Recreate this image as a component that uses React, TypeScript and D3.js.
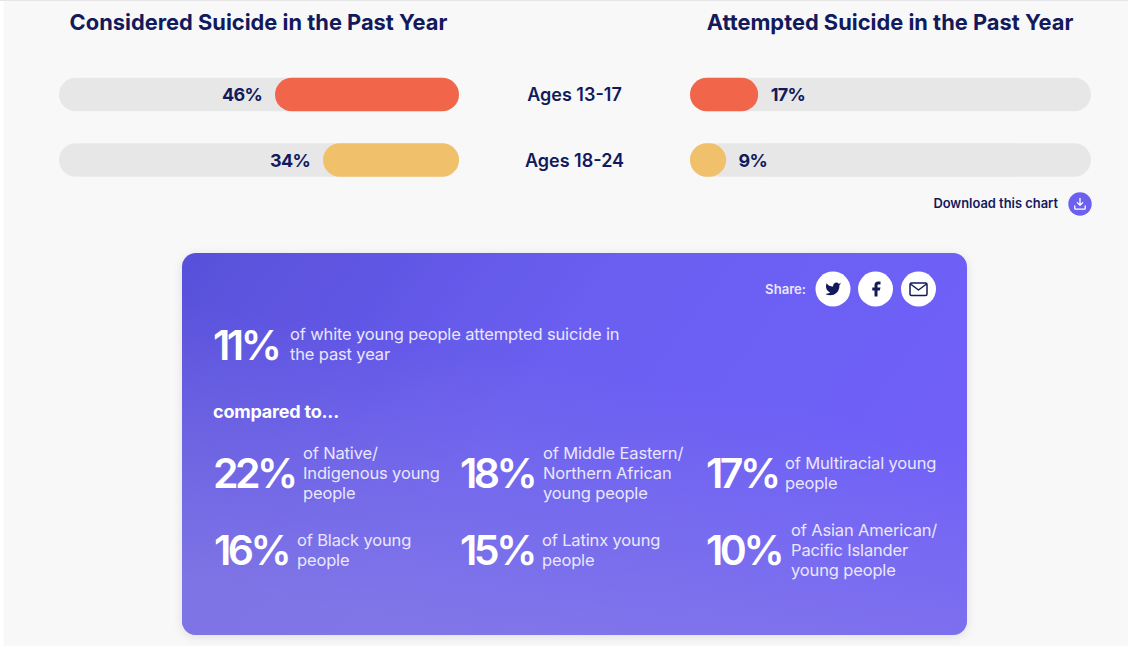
import React from "react";
import * as d3 from "d3";

const ageGroups = ["Ages 13-17", "Ages 18-24"];
const considered = [46, 34];
const attempted = [17, 9];
const barColors = ["#f1664a", "#f1c06a"];
const whiteValue = 11;
const whiteLines = ["of white young people attempted suicide in", "the past year"];
const groupValues = [22, 18, 17, 16, 15, 10];
const groupLines = [
  ["of Native/", "Indigenous young", "people"],
  ["of Middle Eastern/", "Northern African", "young people"],
  ["of Multiracial young", "people"],
  ["of Black young", "people"],
  ["of Latinx young", "people"],
  ["of Asian American/", "Pacific Islander", "young people"],
];
const groupNumberX = [213, 460, 706, 214, 460, 706];
const groupTextX = [303, 543, 785, 297, 542, 791];
const groupRowY = [473, 550];

const NAVY = "#131a5c";
const FONT = "Inter, 'Noto Sans', sans-serif";

export default function App() {
  const leftScale = d3.scaleLinear().domain([0, 100]).range([459, 59]);
  const rightScale = d3.scaleLinear().domain([0, 100]).range([690, 1091]);
  const rowY = d3.scalePoint<string>().domain(ageGroups).range([94.5, 160]);
  const barH = 33.5;

  return (
    <svg
      width={1128}
      height={646}
      viewBox="0 0 1128 646"
      style={{ position: "fixed", left: 0, top: 0, display: "block" }}
      fontFamily={FONT}
    >
      <defs>
        <linearGradient id="cardBase" x1="0" y1="0" x2="1" y2="0.35">
          <stop offset="0" stopColor="#5850da" />
          <stop offset="0.5" stopColor="#6a5ef0" />
          <stop offset="1" stopColor="#6f61f8" />
        </linearGradient>
        <linearGradient id="cardGlow" x1="0.62" y1="0.35" x2="0.38" y2="1">
          <stop offset="0" stopColor="#8a80e4" stopOpacity="0" />
          <stop offset="1" stopColor="#8a80e4" stopOpacity="0.7" />
        </linearGradient>
        <filter id="cardShadow" x="-5%" y="-5%" width="110%" height="110%">
          <feDropShadow dx="0" dy="2" stdDeviation="5" floodColor="#000" floodOpacity="0.1" />
        </filter>
      </defs>

      <rect x={0} y={0} width={1128} height={646} fill="#ffffff" />
      <rect x={3.5} y={1} width={1124.5} height={645} fill="#f8f8f9" />
      <rect x={0} y={0} width={1128} height={1} fill="#e6e6e8" />

      <text x={258.5} y={30} textAnchor="middle" fontSize={21.85} fontWeight={700} fill={NAVY}>
        Considered Suicide in the Past Year
      </text>
      <text x={890} y={30} textAnchor="middle" fontSize={21.85} fontWeight={700} fill={NAVY}>
        Attempted Suicide in the Past Year
      </text>

      {ageGroups.map((g, i) => {
        const y = rowY(g)!;
        const top = y - barH / 2;
        const lx = leftScale(considered[i]);
        const rx = rightScale(attempted[i]);
        return (
          <g key={g}>
            <rect x={59} y={top} width={400} height={barH} rx={16.75} fill="#e7e7e8" />
            <rect x={lx} y={top} width={459 - lx} height={barH} rx={16.75} fill={barColors[i]} />
            <text x={lx - 13} y={y + 6.5} textAnchor="end" fontSize={18} fontWeight={700} letterSpacing={-0.7} fill={NAVY}>
              {considered[i]}%
            </text>
            <text x={574.5} y={y + 6.5} textAnchor="middle" fontSize={18} fontWeight={600} fill={NAVY}>
              {g}
            </text>
            <rect x={690} y={top} width={401} height={barH} rx={16.75} fill="#e7e7e8" />
            <rect x={690} y={top} width={rx - 690} height={barH} rx={16.75} fill={barColors[i]} />
            <text x={rx + 12.5} y={y + 6.5} fontSize={18} fontWeight={700} letterSpacing={-0.7} fill={NAVY}>
              {attempted[i]}%
            </text>
          </g>
        );
      })}

      <text x={1058} y={208} textAnchor="end" fontSize={12.9} fontWeight={600} fill={NAVY}>
        Download this chart
      </text>
      <circle cx={1080} cy={204} r={11.7} fill="#6b60f0" />
      <g stroke="#fff" strokeWidth={1.3} fill="none" strokeLinecap="round" strokeLinejoin="round">
        <path d="M1080 198.5v6.5M1077.3 202.6l2.7 2.7 2.7-2.7" />
        <path d="M1074.8 206v2.4a0.8 0.8 0 0 0 0.8 0.8h8.8a0.8 0.8 0 0 0 0.8-0.8v-2.4" />
      </g>

      <g filter="url(#cardShadow)">
        <rect x={182} y={253} width={785} height={382} rx={14} fill="url(#cardBase)" />
      </g>
      <rect x={182} y={253} width={785} height={382} rx={14} fill="url(#cardGlow)" />

      <text x={806} y={293.5} textAnchor="end" fontSize={13.1} fontWeight={600} fill="#e9e7fd">
        Share:
      </text>
      <circle cx={833} cy={289} r={17.5} fill="#fff" />
      <circle cx={875.5} cy={289} r={17.5} fill="#fff" />
      <circle cx={918.5} cy={289} r={17.5} fill="#fff" />
      <path
        transform="translate(824.5,280.5) scale(0.71)"
        fill={NAVY}
        d="M23 3a10.9 10.9 0 0 1-3 1.53 4.48 4.48 0 0 0-7.86 3v1A10.66 10.66 0 0 1 3 4s-4 9 5 13a11.64 11.64 0 0 1-7 2c9 5 20 0 20-11.5a4.5 4.5 0 0 0-.08-.83A7.72 7.72 0 0 0 23 3z"
      />
      <path
        transform="translate(867,280) scale(0.75)"
        fill={NAVY}
        d="M18 2h-3a5 5 0 0 0-5 5v3H7v4h3v8h4v-8h3l1-4h-4V7a1 1 0 0 1 1-1h3z"
      />
      <g fill="none" stroke={NAVY} strokeWidth={1.5} strokeLinejoin="round">
        <rect x={910} y={283} width={17} height={12.5} rx={1.5} />
        <path d="M910.5 284l8 6 8-6" />
      </g>

      <text x={213} y={360} fontSize={41} fontWeight={600} letterSpacing={-3.5} fill="#fff">
        {whiteValue}%
      </text>
      {whiteLines.map((l, i) => (
        <text key={l} x={290} y={340 + i * 20} fontSize={16.5} letterSpacing={-0.15} fill="#e9e7fd">
          {l}
        </text>
      ))}

      <text x={213} y={418} fontSize={18} fontWeight={700} letterSpacing={-0.2} fill="#fff">
        compared to...
      </text>

      {groupValues.map((v, i) => {
        const cy = groupRowY[i < 3 ? 0 : 1];
        const lines = groupLines[i];
        const startY = cy + 5.5 - ((lines.length - 1) * 20) / 2;
        return (
          <g key={i}>
            <text x={groupNumberX[i]} y={cy + 15} fontSize={41} fontWeight={600} letterSpacing={-3.5} fill="#fff">
              {v}%
            </text>
            {lines.map((l, j) => (
              <text key={j} x={groupTextX[i]} y={startY + j * 20} fontSize={16.5} letterSpacing={-0.15} fill="#e9e7fd">
                {l}
              </text>
            ))}
          </g>
        );
      })}
    </svg>
  );
}
